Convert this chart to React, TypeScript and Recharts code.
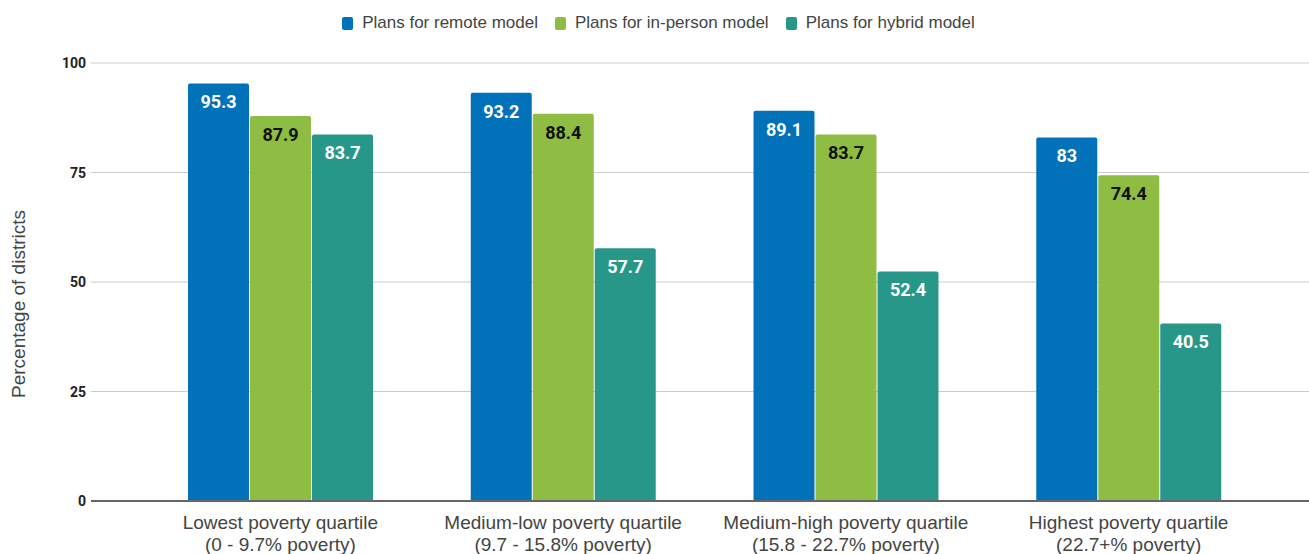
import React from "react";
import { BarChart, Bar, XAxis, YAxis, CartesianGrid, Legend, LabelList, Label } from "recharts";

const categories = ["Lowest poverty quartile", "Medium-low poverty quartile", "Medium-high poverty quartile", "Highest poverty quartile"];
const subLabels = ["(0 - 9.7% poverty)", "(9.7 - 15.8% poverty)", "(15.8 - 22.7% poverty)", "(22.7+% poverty)"];
const remote = [95.3, 93.2, 89.1, 83];
const inPerson = [87.9, 88.4, 83.7, 74.4];
const hybrid = [83.7, 57.7, 52.4, 40.5];
const yTicks = [0, 25, 50, 75, 100];

const seriesNames = ["Plans for remote model", "Plans for in-person model", "Plans for hybrid model"];
const colors = ["#0172BA", "#8FBC42", "#27978A"];

const data = categories.map((c, i) => ({
  name: c,
  remote: remote[i],
  inPerson: inPerson[i],
  hybrid: hybrid[i],
}));

const FONT = "Liberation Sans, Arial, sans-serif";

const XTick = (props: any) => {
  const { x, y, payload, index } = props;
  return (
    <g>
      <text x={x} y={y + 20} textAnchor="middle" fill="#444" fontSize={19} fontFamily={FONT}>
        {payload.value}
      </text>
      <text x={x} y={y + 42} textAnchor="middle" fill="#444" fontSize={19} fontFamily={FONT}>
        {subLabels[index]}
      </text>
    </g>
  );
};

const YTick = (props: any) => {
  const { y, payload } = props;
  return (
    <text x={86} y={y + 5} textAnchor="end" fill="#222" fontSize={14} fontWeight="bold" fontFamily="Roboto, sans-serif">
      {payload.value}
    </text>
  );
};

const LegendContent = () => (
  <div style={{ display: "flex", justifyContent: "center", alignItems: "center", fontFamily: FONT, fontSize: 17, color: "#444", paddingLeft: 8 }}>
    {seriesNames.map((n, i) => (
      <div key={n} style={{ display: "flex", alignItems: "center", marginRight: i < 2 ? 17 : 0 }}>
        <div style={{ width: 11, height: 13, background: colors[i], borderRadius: 2, marginRight: 9 }} />
        <span>{n}</span>
      </div>
    ))}
  </div>
);

export default function App() {
  return (
    <div style={{ position: "absolute", left: 0, top: 0, background: "#fff" }}>
      <BarChart
        width={1309}
        height={554}
        data={data}
        margin={{ top: 63, right: 0, bottom: 0, left: 0 }}
        barGap={1}
        barSize={61}
      >
        <CartesianGrid vertical={false} stroke="#cccccc" />
        <XAxis
          dataKey="name"
          tick={<XTick />}
          tickLine={false}
          axisLine={{ stroke: "#666", strokeWidth: 2 }}
          padding={{ left: 48, right: 39 }}
          interval={0}
          height={53}
        />
        <YAxis
          domain={[0, 100]}
          ticks={yTicks}
          width={91}
          tick={<YTick />}
          tickLine={false}
          axisLine={false}
        >
          <Label
            content={() => (
              <text
                x={25}
                y={304}
                transform="rotate(-90 25 304)"
                textAnchor="middle"
                fill="#444"
                fontSize={19}
                fontFamily={FONT}
              >
                Percentage of districts
              </text>
            )}
          />
        </YAxis>
        <Legend verticalAlign="middle" layout="horizontal" content={<LegendContent />} wrapperStyle={{ top: 13, left: 0, width: 1309 }} />
        <Bar dataKey="remote" name={seriesNames[0]} fill={colors[0]} radius={[2, 2, 0, 0]} isAnimationActive={false}>
          <LabelList dataKey="remote" position="insideTop" offset={12} fill="#fff" fontSize={18} fontWeight="bold" fontFamily="Roboto, sans-serif" />
        </Bar>
        <Bar dataKey="inPerson" name={seriesNames[1]} fill={colors[1]} radius={[2, 2, 0, 0]} isAnimationActive={false}>
          <LabelList dataKey="inPerson" position="insideTop" offset={12} fill="#111" fontSize={18} fontWeight="bold" fontFamily="Roboto, sans-serif" />
        </Bar>
        <Bar dataKey="hybrid" name={seriesNames[2]} fill={colors[2]} radius={[2, 2, 0, 0]} isAnimationActive={false}>
          <LabelList dataKey="hybrid" position="insideTop" offset={12} fill="#fff" fontSize={18} fontWeight="bold" fontFamily="Roboto, sans-serif" />
        </Bar>
      </BarChart>
    </div>
  );
}
